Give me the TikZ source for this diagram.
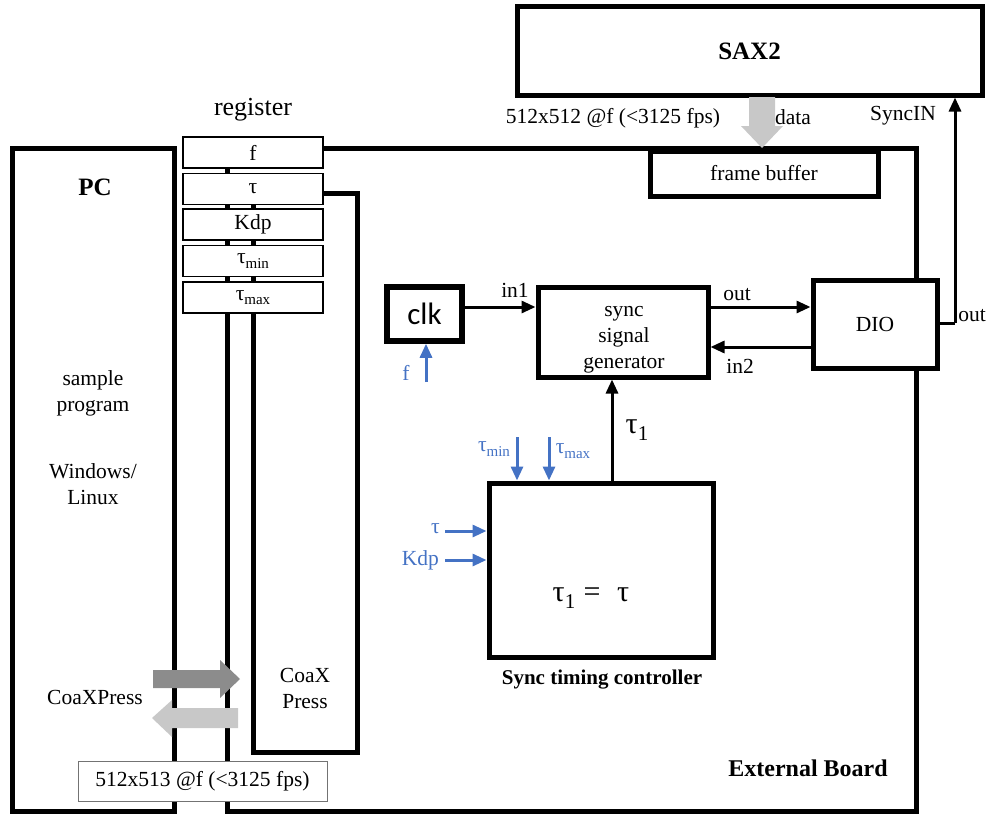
\documentclass[tikz,border=0pt]{standalone}
\usepackage{fontspec}
\setmainfont{Liberation Serif}
\newfontfamily\clkfont{Carlito}
\usetikzlibrary{arrows.meta,calc}
\definecolor{bluec}{HTML}{4472C4}
\definecolor{gdark}{HTML}{8C8C8C}
\definecolor{glight}{HTML}{C8C8C8}
\newcommand{\lsub}[1]{\raisebox{-0.45ex}{\fontsize{15}{15}\selectfont #1}}
\newcommand{\bsub}[1]{\raisebox{-0.5ex}{\fontsize{21}{21}\selectfont #1}}
\begin{document}
\begin{tikzpicture}[x=1pt,y=-1pt,
 txt/.style={font=\fontsize{21.5}{26}\selectfont, inner sep=0pt, align=center},
 bld/.style={font=\fontsize{24}{28}\selectfont\bfseries, inner sep=0pt},
 bigbox/.style={draw, line width=5pt, inner sep=0pt},
 regbox/.style={draw, line width=1.8pt, fill=white, minimum width=140pt, minimum height=31pt, inner sep=0pt, font=\fontsize{21.5}{26}\selectfont},
 arr/.style={line width=3pt, -{Triangle[length=14pt,width=12pt]}},
 barr/.style={bluec, line width=3pt, -{Triangle[length=14pt,width=12pt]}},
 blbl/.style={txt, text=bluec},
]
\useasboundingbox (0,0) rectangle (990,816);

% big boxes
\node[bigbox, minimum width=465pt, minimum height=88pt, font=\fontsize{25}{28}\selectfont\bfseries] (sax) at (749.5,51) {SAX2};
\node[bigbox, minimum width=162pt, minimum height=663pt] (pc) at (93,479.5) {};
\node[bigbox, minimum width=689pt, minimum height=663pt] (board) at (571.5,479.5) {};
\node[bigbox, minimum width=104pt, minimum height=559pt] (cxp) at (305,472.5) {};
\node[txt] (cxplbl) at (305,688) {CoaX\\Press};

% frame buffer
\node[bigbox, fill=white, minimum width=228pt, minimum height=45pt, txt, line width=5pt] (fb) at (764,173.5) {frame buffer};

% registers
\node[font=\fontsize{26}{28}\selectfont, inner sep=0pt] (reglbl) at (253,110) {register};
\node[regbox] (rf) at (253,152.5) {f};
\node[regbox] (rtau) at (253,189) {τ};
\node[regbox] (rkdp) at (253,224.5) {Kdp};
\node[regbox] (rmin) at (253,261) {τ\lsub{min}};
\node[regbox] (rmax) at (253,297.5) {τ\lsub{max}};

% PC texts
\node[font=\fontsize{25}{28}\selectfont\bfseries, inner sep=0pt] (pclbl) at (95,187) {PC};
\node[txt] (sample) at (93,393) {sample\\program};
\node[txt] (os) at (93,484) {Windows/\\Linux};
\node[txt] (cxpl) at (95,697) {CoaXPress};

% CoaXPress arrows
\fill[gdark] (153,670) -- (220,670) -- (220,660) -- (240,679) -- (220,698) -- (220,688) -- (153,688) -- cycle;
\fill[glight] (238,708) -- (172,708) -- (172,700) -- (152,718) -- (172,737) -- (172,728) -- (238,728) -- cycle;

% bottom label box
\node[draw=black!55, line width=1pt, fill=white, minimum width=249pt, minimum height=40pt, txt] (res) at (202.5,781) {512x513 @f (<3125 fps)};

% External board label
\node[bld] (eb) at (808,768) {External Board};

% clk, sync generator, DIO, timing controller
\node[bigbox, line width=5.5pt, minimum width=75pt, minimum height=54pt, font=\clkfont\fontsize{31}{34}\selectfont] (clk) at (424.5,314) {clk};
\node[bigbox, minimum width=170pt, minimum height=90pt] (ssg) at (623,332) {};
\node[txt] (ssgt) at (624,340) {sync\\signal\\generator};
\node[bigbox, fill=white, minimum width=124pt, minimum height=88pt, txt] (dio) at (875,324) {DIO};
\node[bigbox, minimum width=224pt, minimum height=174pt] (stc) at (601,570) {};
\node[font=\fontsize{30}{32}\selectfont, inner sep=0pt] (eq) at (591,598) {τ\bsub{1}\;=\;\;τ};
\node[font=\fontsize{21}{24}\selectfont\bfseries, inner sep=0pt] (stclbl) at (602,680) {Sync timing controller};

% black connectors
\draw[arr] ([yshift=7pt]clk.east) -- ([yshift=7pt]clk.east -| ssg.west);
\node[txt] (in1) at (515,290) {in1};
\draw[arr] ([yshift=25pt]ssg.east) -- ([yshift=25pt]ssg.east -| dio.west);
\node[txt] (outl) at (737,295) {out};
\draw[arr] ([yshift=-15pt]ssg.east -| dio.west) -- ([yshift=-15pt]ssg.east);
\node[txt] (in2) at (740,366) {in2};
\draw[arr] ([xshift=11pt]stc.north) -- ([xshift=11pt]stc.north |- ssg.south);
\node[font=\fontsize{30}{32}\selectfont, inner sep=0pt] (tau1) at (637,430) {τ\bsub{1}};

\coordinate (syncpt) at (955,323);
\draw[line width=3pt] (dio.east |- syncpt) -- (syncpt);
\draw[arr] (syncpt) -- (syncpt |- sax.south);
\node[txt] (outr) at (972,316) {out};
\node[txt] (syncin) at (903,116) {SyncIN};

% data arrow
\fill[glight] (749,97) -- (775,97) -- (775,126) -- (783,126) -- (762,148) -- (741,126) -- (749,126) -- cycle;
\node[txt] (datal) at (793,117) {data};
\node[txt] (rate) at (613,118) {512x512 @f (<3125 fps)};

% blue inputs
\coordinate (fstart) at (426,382);
\draw[barr] (fstart) -- (fstart |- clk.south);
\node[blbl] (flbl) at (406,373) {f};

\coordinate (tminst) at (517,437);
\coordinate (tmaxst) at (549,437);
\draw[barr] (tminst) -- (tminst |- stc.north);
\draw[barr] (tmaxst) -- (tmaxst |- stc.north);
\node[blbl] (tminl) at (494,449) {τ\lsub{min}};
\node[blbl] (tmaxl) at (573,451) {τ\lsub{max}};

\coordinate (tauin) at (445,531);
\coordinate (kdpin) at (445,560);
\draw[barr] (tauin) -- (tauin -| stc.west);
\draw[barr] (kdpin) -- (kdpin -| stc.west);
\node[blbl, anchor=east] (taul) at (440,529) {τ};
\node[blbl, anchor=east] (kdpl) at (439,560) {Kdp};
\end{tikzpicture}
\end{document}
